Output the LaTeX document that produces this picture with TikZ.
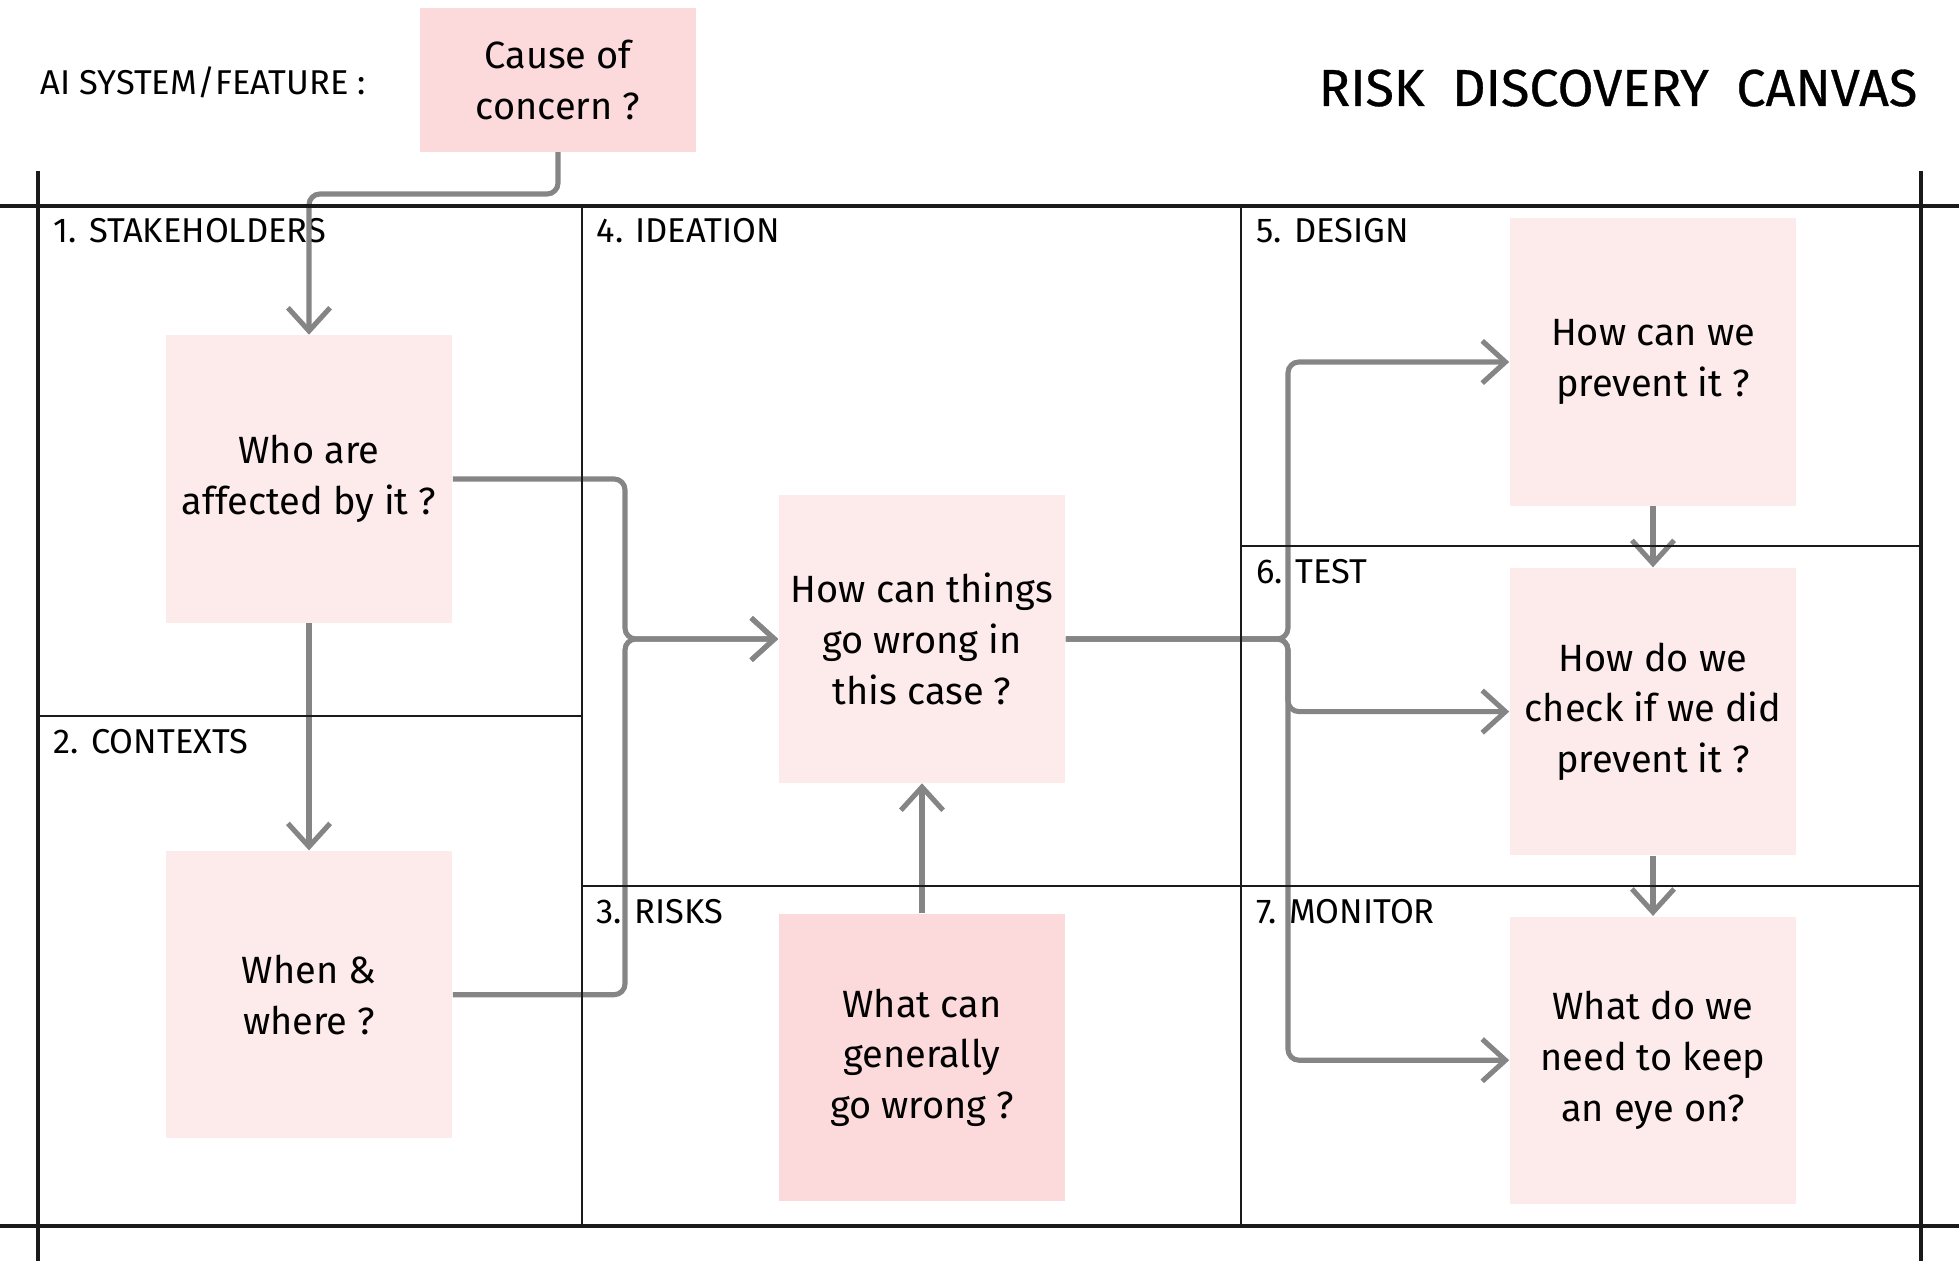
\documentclass[tikz,border=0pt]{standalone}
\usepackage{fontspec}
\setmainfont{Fira Sans}
\usepackage{tikz}
\usetikzlibrary{positioning,arrows.meta}

\definecolor{cardpink}{HTML}{FDEBEC}
\definecolor{cardrose}{HTML}{FCDADB}
\definecolor{arrowgray}{HTML}{858585}
\definecolor{inkblack}{HTML}{1A1A1A}

\begin{document}
\begin{tikzpicture}[
  x=0.01cm, y=-0.01cm,
  card/.style={fill=cardpink, minimum width=2.86cm, minimum height=2.87cm, inner sep=0pt, align=center, font=\fontsize{10.8}{14.4}\selectfont},
  hotcard/.style={card, fill=cardrose},
  section/.style={anchor=base west, inner sep=0pt, font=\fontsize{9.8}{11}\selectfont},
  frame/.style={draw=inkblack, line width=1.1pt},
  divider/.style={draw=inkblack, line width=0.55pt},
  ar/.style={draw=arrowgray, line width=1.45pt, rounded corners=3.1pt, -{Straight Barb[length=6.6pt,width=12pt]}}]

  \useasboundingbox (0,0) rectangle (1959,1261);

  % header
  \node[section] (system) at (40,95) {AI SYSTEM/FEATURE :};
  \node[anchor=base east, inner sep=0pt, font=\fontsize{14.8}{18}\selectfont\addfontfeature{FakeBold=0.6}] (title) at (1918,106) {RISK\ \ DISCOVERY\ \ CANVAS};
  \node[hotcard, minimum width=2.76cm, minimum height=1.43cm] (cause) at (558,80) {Cause of\\concern ?};

  % cards, column by column
  \node[card] (who) at (309,479) {Who are\\affected by it ?};
  \node[card, below=2.27cm of who] (when) {When \&\\where ?};

  \node[card] (how) at (922,639) {How can things\\go wrong in\\this case ?};
  \node[hotcard, below=1.30cm of how] (gen) {What can\\generally\\go wrong ?};

  \node[card] (prev) at (1653,362) {How can we\\prevent it ?};
  \node[card, below=0.61cm of prev] (chk) {How do we\\check if we did\\prevent it ?};
  \node[card, below=0.60cm of chk] (keep) {What do we\\need to keep\\an eye on?};

  % section labels
  \node[section] (stake) at (53,243) {1. STAKEHOLDERS};
  \node[section] (ctx) at (53,754) {2. CONTEXTS};
  \node[section] (risk) at (596,924) {3. RISKS};
  \node[section] (idea) at (596,243) {4. IDEATION};
  \node[section] (design) at (1256,243) {5. DESIGN};
  \node[section] (test) at (1256,584) {6. TEST};
  \node[section] (mon) at (1256,924) {7. MONITOR};

  % bends of the connectors
  \coordinate (jc) at (430,194);
  \coordinate (jl) at (625,560);
  \coordinate (jl2) at (625,720);
  \coordinate (jr) at (1288,600);
  \coordinate (jr2) at (1288,680);

  % connectors
  \draw[ar] (cause.south) |- (jc) -| (who.north);
  \draw[ar] (who) -- (when);
  \draw[ar] (who.east) -| (jl) |- (how.west);
  \draw[ar] (when.east) -| (jl2) |- (how.west);
  \draw[ar] (gen) -- (how);
  \draw[ar] (how.east) -| (jr) |- (prev.west);
  \draw[ar] (how.east) -| (jr2) |- (chk.west);
  \draw[ar] (how.east) -| (jr2) |- (keep.west);
  \draw[ar] (prev) -- (chk);
  \draw[ar] (chk) -- (keep);

  % canvas grid
  \draw[frame] (0,206) -- (1959,206);
  \draw[frame] (0,1226) -- (1959,1226);
  \draw[frame] (38,171) -- (38,1261);
  \draw[frame] (1921,171) -- (1921,1261);
  \draw[divider] (582,206) -- (582,1226);
  \draw[divider] (1241,206) -- (1241,1226);
  \draw[divider] (38,716) -- (582,716);
  \draw[divider] (1241,546) -- (1921,546);
  \draw[divider] (582,886) -- (1921,886);
\end{tikzpicture}
\end{document}
